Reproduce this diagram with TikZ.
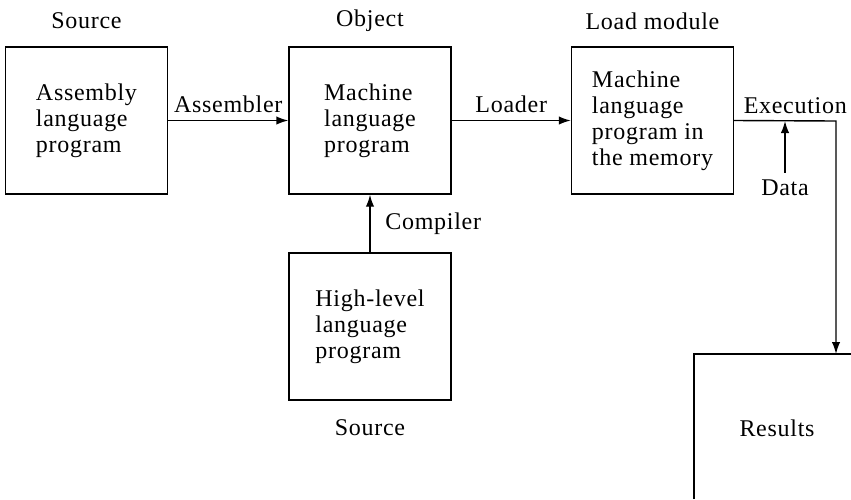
\documentclass[tikz,border=0pt]{standalone}
\usepackage{fontspec}
\setmainfont[LetterSpace=3]{Liberation Serif}
\usepackage{tikz}
\usetikzlibrary{arrows,arrows.meta}

\begin{document}
\begin{tikzpicture}[x=0.5pt,y=-0.5pt,>={Latex[length=6pt,width=4.2pt]},line width=0.7pt,
  box/.style={draw,minimum width=81pt,minimum height=73.5pt,align=left,font=\fontsize{12}{13}\selectfont},
  lbl/.style={font=\fontsize{12}{13}\selectfont}]
\useasboundingbox (0,0) rectangle (851,499);
\node[box] (asm) at (86.5,120.5) {Assembly\\language\\program};
\node[box] (obj) at (370,120.5) {Machine\\language\\program};
\node[box] (hll) at (370,326.5) {High-level\\language\\program};
\node[box] (load) at (652.5,120.5) {Machine\\language\\program in\\the memory};
\node[lbl] (src1) at (86.5,21) {Source};
\node[lbl] (objt) at (370,21) {Object};
\node[lbl] (loadt) at (652.5,21) {Load module};
\node[lbl] (src2) at (370,428) {Source};
\draw[->] (asm) -- node[lbl,above] {Assembler} (obj);
\draw[->] (obj) -- node[lbl,above] {Loader} (load);
\draw[->] (hll) -- node[lbl,right=4pt] {Compiler} (obj);
\coordinate (corner) at (836,121);
\coordinate (resin) at (836,354);
\draw[->] (load.east) -- node[lbl,above,pos=0.6] {Execution} (corner) -- (resin);
\node[lbl] (data) at (785,188) {Data};
\draw[->] (data) -- (data |- corner);
% results frame runs off the page
\draw (694,499) -- (694,354) -- (851,354);
\node[lbl] (res) at (777,428) {Results};
\end{tikzpicture}
\end{document}
